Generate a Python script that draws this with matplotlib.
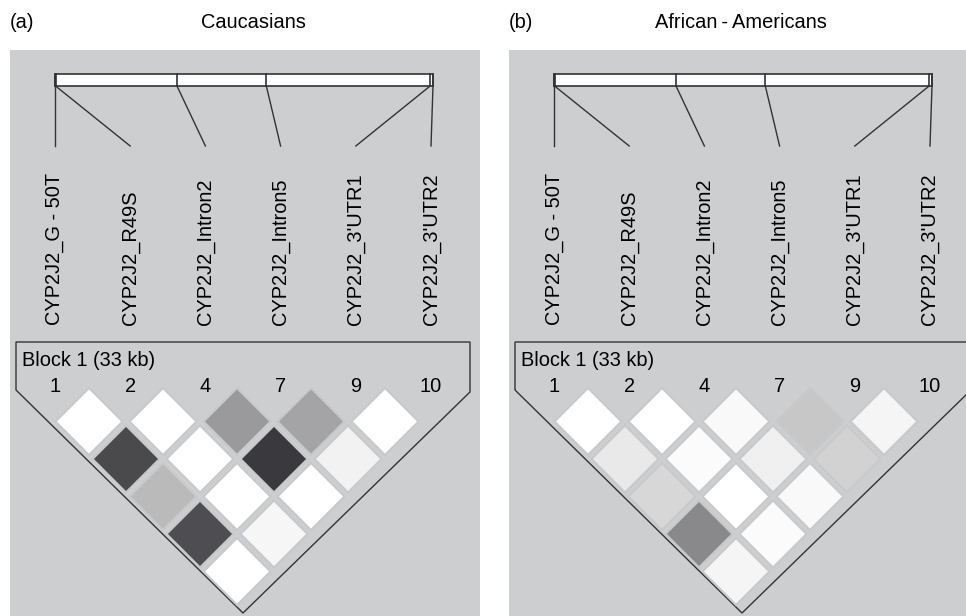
import numpy as np
import matplotlib.pyplot as plt
from matplotlib.patches import Polygon, Rectangle
from matplotlib.colors import LinearSegmentedColormap

plt.rcParams['font.family'] = ['Liberation Sans', 'DejaVu Sans']

# marker names, Haploview marker numbers and position along the 33 kb block
markers = ['CYP2J2_G - 50T', 'CYP2J2_R49S', 'CYP2J2_Intron2',
           'CYP2J2_Intron5', "CYP2J2_3'UTR1", "CYP2J2_3'UTR2"]
marker_ids = ['1', '2', '4', '7', '9', '10']
marker_kb = [0.0, 0.05, 10.65, 18.45, 32.75, 33.0]
block_kb = 33.0
block_label = 'Block 1 (33 kb)'

panel_tags = ['(a)', '(b)']
populations = ['Caucasians', 'African\u2009-\u2009Americans']

# pairwise LD (r^2), upper triangle: row i holds pairs (i, i+1), (i, i+2), ...
ld_cauc = [[0.00, 0.81, 0.31, 0.79, 0.00],
           [0.00, 0.00, 0.00, 0.04],
           [0.45, 0.88, 0.00],
           [0.41, 0.06],
           [0.00]]
ld_afam = [[0.00, 0.10, 0.18, 0.53, 0.05],
           [0.00, 0.02, 0.00, 0.02],
           [0.03, 0.07, 0.03],
           [0.25, 0.20],
           [0.05]]

cmap = LinearSegmentedColormap.from_list('ld', ['#ffffff', '#202024'])
bg = '#cdced0'
ink = '#333333'
fs = 14.4

fig = plt.figure(figsize=(9.66, 6.16), dpi=100)
ax = fig.add_axes([0, 0, 1, 1])
ax.set_xlim(0, 966)
ax.set_ylim(616, 0)
ax.axis('off')


def draw_panel(x0, tag, title, title_x, ld):
    ax.add_patch(Rectangle((x0 + 10, 50), 470, 570, fc=bg, ec='none'))
    ax.text(x0 + 10, 22, tag, ha='left', va='center', fontsize=fs)
    ax.text(x0 + title_x, 22, title, ha='center', va='center', fontsize=fs)

    # gene bar with marker ticks and connectors
    bx0, bx1 = x0 + 55, x0 + 433
    ax.add_patch(Rectangle((bx0, 74), bx1 - bx0, 12, fc='white', ec=ink, lw=1.2))
    n = len(markers)
    lab_x = x0 + np.linspace(55, 431, n)
    for k, kb in enumerate(marker_kb):
        px = bx0 + (bx1 - bx0) * kb / block_kb
        ax.plot([px, px], [74, 86], color=ink, lw=1.2)
        ax.plot([px, lab_x[k]], [86, 146], color=ink, lw=1.0)
        ax.text(lab_x[k], 325, markers[k], rotation=90, ha='center',
                va='bottom', fontsize=fs)
        ax.text(lab_x[k], 387, marker_ids[k], ha='center', va='center',
                fontsize=fs)

    # block outline
    ax.add_patch(Polygon([(x0 + 16, 390), (x0 + 16, 342), (x0 + 470, 342),
                          (x0 + 470, 392), (x0 + 243, 613)],
                         closed=True, fc='none', ec=ink, lw=1.0))
    ax.text(x0 + 22, 360, block_label, ha='left', va='center', fontsize=fs)

    # LD diamonds
    hx = x0 + 52 + 74 * np.arange(n)
    h = 33.5
    for i, row in enumerate(ld):
        for d, v in enumerate(row):
            j = i + 1 + d
            cx = (hx[i] + hx[j]) / 2
            cy = 384 + (j - i) * 37.5
            ax.add_patch(Polygon([(cx, cy - h), (cx + h, cy), (cx, cy + h),
                                  (cx - h, cy)], closed=True,
                                 fc=cmap(v), ec='#c8c9cb', lw=1.5))


draw_panel(0, panel_tags[0], populations[0], 253, ld_cauc)
draw_panel(499, panel_tags[1], populations[1], 242, ld_afam)

fig.savefig('out.png', dpi=100, facecolor='white')
